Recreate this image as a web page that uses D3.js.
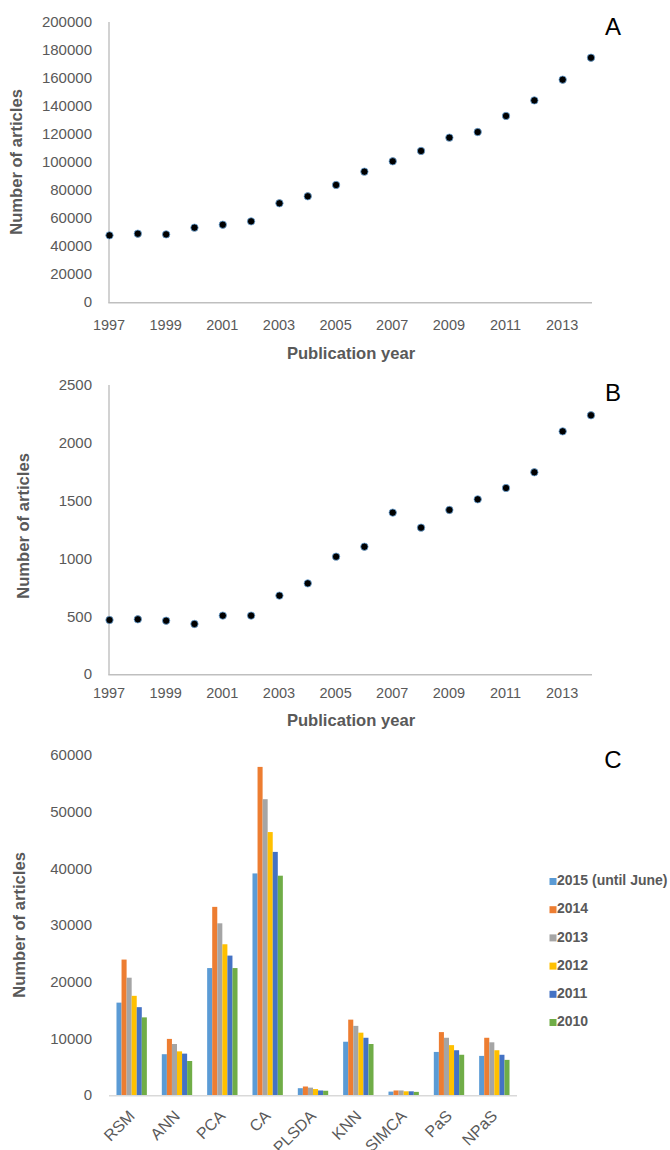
<!DOCTYPE html>
<html>
<head>
<meta charset="utf-8">
<script src="https://cdn.jsdelivr.net/npm/d3@7/dist/d3.min.js"></script>
<style>
  html, body { margin: 0; padding: 0; background: #fff; }
  svg { display: block; }
  text { font-family: "Liberation Sans", Arial, sans-serif; }
</style>
</head>
<body>
<svg id="chart" width="670" height="1150"></svg>
<script>
// Publication years shared by panels A and B
const years = [1997, 1998, 1999, 2000, 2001, 2002, 2003, 2004, 2005, 2006, 2007, 2008, 2009, 2010, 2011, 2012, 2013, 2014];
// Panel A: all articles per year
const articlesAll = [47600, 48800, 48300, 53100, 55200, 57600, 70500, 75500, 83600, 93100, 100500, 107900, 117400, 121400, 132900, 144000, 158800, 174500];
// Panel B: articles per year in the subset
const articlesSubset = [467, 473, 461, 433, 505, 505, 678, 784, 1015, 1101, 1396, 1266, 1419, 1511, 1609, 1745, 2099, 2238];
const yearTicks = [1997, 1999, 2001, 2003, 2005, 2007, 2009, 2011, 2013];
const ticksA = [0, 20000, 40000, 60000, 80000, 100000, 120000, 140000, 160000, 180000, 200000];
const ticksB = [0, 500, 1000, 1500, 2000, 2500];

// Panel C: articles per method and year
const methods = ["RSM", "ANN", "PCA", "CA", "PLSDA", "KNN", "SIMCA", "PaS", "NPaS"];
const seriesNames = ["2015 (until June)", "2014", "2013", "2012", "2011", "2010"];
const v2015 = [16300, 7200, 22400, 39100, 1200, 9400, 600, 7600, 6900];
const v2014 = [23900, 9900, 33200, 57900, 1500, 13300, 800, 11100, 10100];
const v2013 = [20700, 9000, 30300, 52200, 1300, 12200, 800, 10100, 9300];
const v2012 = [17500, 7700, 26600, 46400, 1050, 11000, 650, 8800, 7900];
const v2011 = [15500, 7300, 24600, 42900, 800, 10100, 650, 7900, 7100];
const v2010 = [13700, 6000, 22400, 38700, 750, 9000, 550, 7100, 6200];
const ticksC = [0, 10000, 20000, 30000, 40000, 50000, 60000];
const seriesColors = ["#5B9BD5", "#ED7D31", "#A5A5A5", "#FFC000", "#4472C4", "#70AD47"];

const svg = d3.select("#chart");
const textGray = "#595959";
const axisGray = "#BFBFBF";
const titleSize = 16.6;

function styleTicks(sel, size) {
  sel.select(".domain").remove();
  sel.selectAll("text").attr("fill", textGray).attr("font-size", size)
    .attr("font-family", "Liberation Sans, Arial, sans-serif");
}

function scatterPanel(opts) {
  const g = svg.append("g");
  const x = d3.scaleLinear().domain([1997, 2014]).range([109.5, 591]);
  const y = d3.scaleLinear().domain(opts.yDomain).range([opts.y0, opts.y1]);

  // y tick labels
  const ya = d3.axisLeft(y).tickValues(opts.yTicks).tickSize(0).tickPadding(0).tickFormat(d3.format("d"));
  g.append("g").attr("transform", "translate(92,0)").call(ya).call(styleTicks, 15);

  // x tick labels
  const xa = d3.axisBottom(x).tickValues(yearTicks).tickSize(0).tickPadding(0).tickFormat(d3.format("d"));
  g.append("g").attr("transform", `translate(-1,${opts.xLabelY})`).call(xa).call(styleTicks, 14.5);

  // axis lines
  g.append("line").attr("x1", 109).attr("x2", 109).attr("y1", opts.y1).attr("y2", opts.y0 + 0.7)
    .attr("stroke", axisGray).attr("stroke-width", 1.4);
  g.append("line").attr("x1", 108.3).attr("x2", 592).attr("y1", opts.y0 + 0.7).attr("y2", opts.y0 + 0.7)
    .attr("stroke", axisGray).attr("stroke-width", 1.4);

  // markers
  g.selectAll("circle").data(opts.values).join("circle")
    .attr("cx", (d, i) => x(years[i]))
    .attr("cy", d => y(d))
    .attr("r", 3.7)
    .attr("fill", "#000")
    .attr("stroke", "#6FA8DC")
    .attr("stroke-width", 0.8);

  // titles
  g.append("text").attr("transform", `translate(${opts.yTitleX},${opts.yTitleY}) rotate(-90)`)
    .attr("text-anchor", "middle").attr("dominant-baseline", "middle")
    .attr("font-size", titleSize).attr("font-weight", "bold").attr("fill", textGray)
    .text("Number of articles");
  g.append("text").attr("x", 351).attr("y", opts.xTitleY)
    .attr("text-anchor", "middle").attr("dominant-baseline", "middle")
    .attr("font-size", titleSize).attr("font-weight", "bold").attr("fill", textGray)
    .text("Publication year");
  g.append("text").attr("x", 613).attr("y", opts.letterY)
    .attr("text-anchor", "middle").attr("dominant-baseline", "middle")
    .attr("font-size", 24).attr("fill", "#000")
    .attr("font-family", "DejaVu Sans, sans-serif")
    .text(opts.letter);
}

scatterPanel({
  values: articlesAll, yDomain: [0, 200000], yTicks: ticksA,
  y0: 302, y1: 22, xLabelY: 320, yTitleX: 18, yTitleY: 162, xTitleY: 355, letter: "A", letterY: 29
});
scatterPanel({
  values: articlesSubset, yDomain: [0, 2500], yTicks: ticksB,
  y0: 674, y1: 385, xLabelY: 688, yTitleX: 25, yTitleY: 526, xTitleY: 722, letter: "B", letterY: 395
});

// Panel C: grouped bars
(function () {
  const g = svg.append("g");
  const seriesValues = [v2015, v2014, v2013, v2012, v2011, v2010];
  const x0 = d3.scaleBand().domain(methods).range([109, 517]).paddingInner(0.33).paddingOuter(0.165);
  const x1 = d3.scaleBand().domain(seriesNames).range([0, x0.bandwidth()]);
  const y = d3.scaleLinear().domain([0, 60000]).range([1095, 755]);

  const ya = d3.axisLeft(y).tickValues(ticksC).tickSize(0).tickPadding(0).tickFormat(d3.format("d"));
  g.append("g").attr("transform", "translate(92,0)").call(ya).call(styleTicks, 15);

  methods.forEach((m, mi) => {
    seriesNames.forEach((s, si) => {
      const v = seriesValues[si][mi];
      g.append("rect")
        .attr("x", x0(m) + x1(s))
        .attr("y", y(v))
        .attr("width", x1.bandwidth())
        .attr("height", y(0) - y(v))
        .attr("fill", seriesColors[si]);
    });
  });

  g.append("line").attr("x1", 109).attr("x2", 517).attr("y1", 1095.7).attr("y2", 1095.7)
    .attr("stroke", "#D9D9D9").attr("stroke-width", 1.5);

  // category labels, slanted at 45 degrees
  methods.forEach(m => {
    const lx = x0(m) + x0.bandwidth() / 2 + 4;
    const ly = 1117;
    g.append("text")
      .attr("x", lx).attr("y", ly)
      .attr("transform", `rotate(-45 ${lx} ${ly})`)
      .attr("text-anchor", "end")
      .attr("font-size", 16).attr("fill", textGray)
      .text(m);
  });

  // legend
  seriesNames.forEach((s, i) => {
    const cy = 881.5 + i * 28.2;
    g.append("rect").attr("x", 549.5).attr("y", cy - 3.5).attr("width", 7).attr("height", 7)
      .attr("fill", seriesColors[i]);
    g.append("text").attr("x", 557).attr("y", cy).attr("dominant-baseline", "middle")
      .attr("font-size", 14).attr("font-weight", "bold").attr("fill", textGray)
      .text(s);
  });

  g.append("text").attr("transform", `translate(21,925) rotate(-90)`)
    .attr("text-anchor", "middle").attr("dominant-baseline", "middle")
    .attr("font-size", titleSize).attr("font-weight", "bold").attr("fill", textGray)
    .text("Number of articles");
  g.append("text").attr("x", 613).attr("y", 762)
    .attr("text-anchor", "middle").attr("dominant-baseline", "middle")
    .attr("font-size", 24).attr("fill", "#000")
    .attr("font-family", "DejaVu Sans, sans-serif")
    .text("C");
})();
</script>
</body>
</html>
